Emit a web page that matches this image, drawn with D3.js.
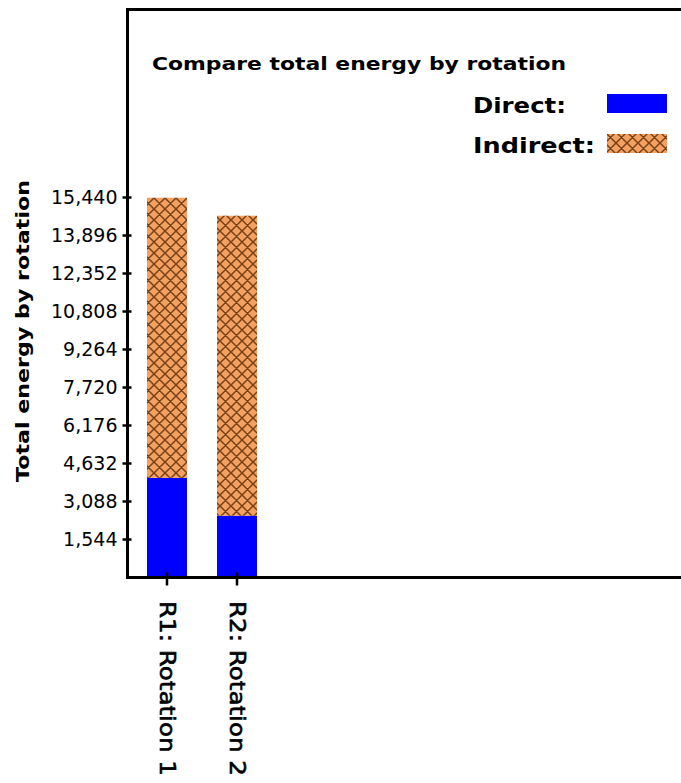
<!DOCTYPE html>
<html>
<head>
<meta charset="utf-8">
<script src="https://cdn.jsdelivr.net/npm/d3@7/dist/d3.min.js"></script>
<style>
  html, body { margin: 0; padding: 0; background: #fff; }
  svg { display: block; }
</style>
</head>
<body>
<svg id="chart" width="681" height="783"></svg>
<script>
// Energy per rotation, split into direct and indirect parts
const categories = ["R1: Rotation 1", "R2: Rotation 2"];
const directValues = [4030, 2490];
const indirectValues = [11380, 12190];
const tickValues = [1544, 3088, 4632, 6176, 7720, 9264, 10808, 12352, 13896, 15440];
const seriesNames = ["Direct:", "Indirect:"];

const svg = d3.select("#chart");
const font = "'DejaVu Sans', Verdana, sans-serif";

// Crosshatch fill for the indirect series
const defs = svg.append("defs");
const pat = defs.append("pattern")
  .attr("id", "hatch")
  .attr("patternUnits", "userSpaceOnUse")
  .attr("width", 11).attr("height", 11);
pat.append("rect").attr("width", 11).attr("height", 11).attr("fill", "#f3a060");
pat.append("circle").attr("cx", 5.5).attr("cy", 5.5).attr("r", 2.2).attr("fill", "#f8b878");
pat.append("path")
  .attr("d", "M0,0 L11,11 M11,0 L0,11 M-1,10 L1,12 M10,-1 L12,1 M-1,1 L1,-1 M10,12 L12,10")
  .attr("stroke", "#7a4016").attr("stroke-width", 1.5).attr("fill", "none");

const y = d3.scaleLinear().domain([0, 15440]).range([577, 197]);
const x = d3.scaleBand().domain(categories).range([132, 272])
  .paddingInner(3 / 7).paddingOuter(3 / 14);

// Stacked bars
const rows = categories.map((c, i) => ({ cat: c, direct: directValues[i], indirect: indirectValues[i] }));
const stack = d3.stack().keys(["direct", "indirect"])(rows);
const fills = { direct: "#0000ff", indirect: "url(#hatch)" };

svg.append("g").selectAll("g").data(stack).join("g")
  .attr("fill", d => fills[d.key])
  .selectAll("rect").data(d => d).join("rect")
  .attr("x", d => x(d.data.cat))
  .attr("width", x.bandwidth())
  .attr("y", d => y(d[1]))
  .attr("height", d => y(d[0]) - y(d[1]));

// Frame around the plotting area (open to the right edge)
svg.append("path")
  .attr("d", "M681,9.5 H127.5 V577.5 H681")
  .attr("fill", "none").attr("stroke", "#000").attr("stroke-width", 3);

// Y axis
const yAxis = svg.append("g").attr("transform", "translate(127.5,0)")
  .call(d3.axisLeft(y).tickValues(tickValues).tickFormat(d3.format(",")).tickSize(5).tickPadding(5));
yAxis.select(".domain").remove();
yAxis.selectAll(".tick line").attr("x1", 4).attr("stroke", "#000").attr("stroke-width", 2.5);
yAxis.selectAll(".tick text")
  .attr("font-family", font).attr("font-size", 19).attr("fill", "#000");

// X axis
const xAxis = svg.append("g").attr("transform", "translate(0,577.5)")
  .call(d3.axisBottom(x).tickSize(8).tickFormat(""));
xAxis.select(".domain").remove();
xAxis.selectAll(".tick line").attr("y1", -5).attr("stroke", "#000").attr("stroke-width", 2.5);

svg.append("g").selectAll("text").data(categories).join("text")
  .attr("transform", d => `translate(${x(d) + x.bandwidth() / 2},601) rotate(90)`)
  .attr("dominant-baseline", "central")
  .attr("font-family", font).attr("font-size", 22)
  .attr("stroke", "#000").attr("stroke-width", 0.6)
  .attr("textLength", 175).attr("lengthAdjust", "spacingAndGlyphs")
  .text(d => d);

// Y axis title
svg.append("text")
  .attr("transform", "translate(23,331) rotate(-90)")
  .attr("text-anchor", "middle").attr("dominant-baseline", "central")
  .attr("font-family", font).attr("font-weight", "bold").attr("font-size", 17)
  .attr("textLength", 302).attr("lengthAdjust", "spacingAndGlyphs")
  .text("Total energy by rotation");

// Chart title
svg.append("text")
  .attr("x", 152).attr("y", 70)
  .attr("font-family", font).attr("font-weight", "bold").attr("font-size", 17)
  .attr("textLength", 414).attr("lengthAdjust", "spacingAndGlyphs")
  .text("Compare total energy by rotation");

// Legend
const legend = svg.append("g");
const legendRows = [
  { name: seriesNames[0], fill: fills.direct, y: 94, w: 93 },
  { name: seriesNames[1], fill: fills.indirect, y: 134, w: 122 }
];
legendRows.forEach(r => {
  legend.append("text")
    .attr("x", 473).attr("y", r.y + 19)
    .attr("font-family", font).attr("font-weight", "bold").attr("font-size", 22)
    .attr("textLength", r.w).attr("lengthAdjust", "spacingAndGlyphs")
    .text(r.name);
  legend.append("rect")
    .attr("x", 607).attr("y", r.y).attr("width", 60).attr("height", 19)
    .attr("fill", r.fill);
});
</script>
</body>
</html>
